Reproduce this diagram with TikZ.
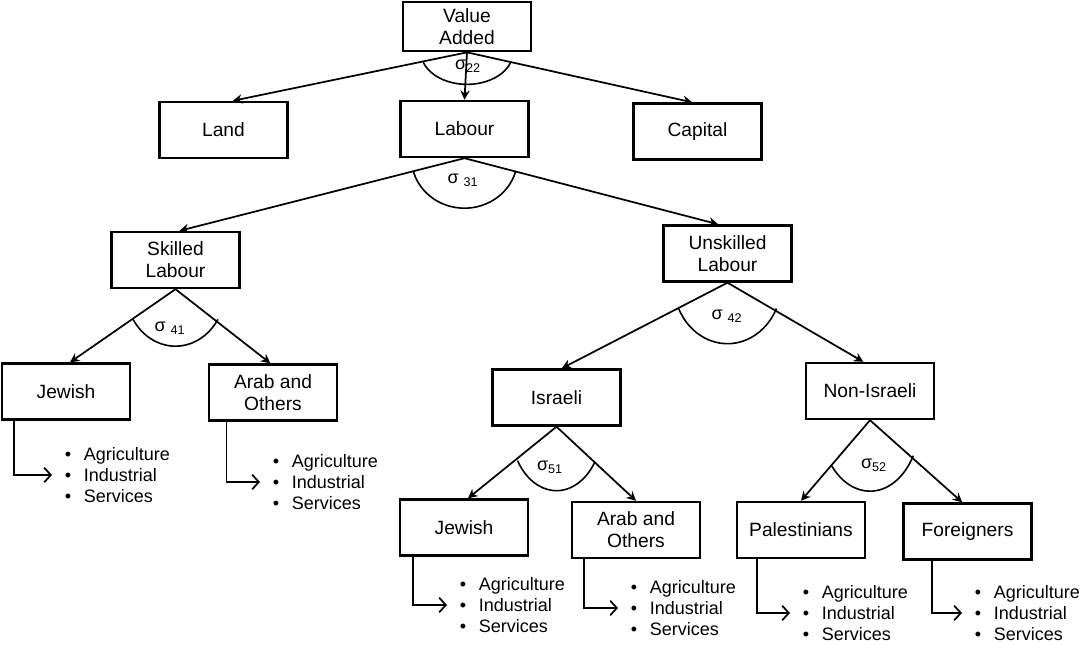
\documentclass[tikz,border=0pt]{standalone}
\usepackage{fontspec}
\setmainfont{Liberation Sans}
\usetikzlibrary{arrows.meta}
\tikzset{
  box/.style={draw,line width=1.8pt,minimum width=96pt,minimum height=42pt,align=center,inner sep=2pt,font=\fontsize{14.4}{16.5}\selectfont},
  blist/.style={anchor=west,align=left,inner xsep=9.5pt,inner ysep=0pt,font=\fontsize{13.5}{15.75}\selectfont},
  tree/.style={line width=1.3pt,-{Stealth[length=7pt,width=7pt]}},
  elbow/.style={line width=1.3pt,-{Straight Barb[length=5pt,width=11pt]}},
  sig/.style={line width=1.2pt},
  siglab/.style={inner sep=0pt,font=\fontsize{13.5}{13.5}\selectfont}
}
\newcommand{\sectors}{\textbullet\hspace{9.5pt}Agriculture\\ \textbullet\hspace{9.5pt}Industrial\\ \textbullet\hspace{9.5pt}Services}
\begin{document}
\begin{tikzpicture}[x=0.75pt,y=-0.75pt]
\useasboundingbox (0,0) rectangle (1083,645);
% top level
\node[box,minimum height=37pt] (va) at (467,26.5) {Value\\Added};
\node[box] (land) at (223.5,130) {Land};
\node[box] (labour) at (464.5,129) {Labour};
\node[box] (capital) at (697.5,131.5) {Capital};
% labour types
\node[box] (skilled) at (175.5,260) {Skilled\\Labour};
\node[box] (unskilled) at (727.5,253.5) {Unskilled\\Labour};
\node[box] (jew1) at (66,391.5) {Jewish};
\node[box] (arab1) at (273,392.5) {Arab and\\Others};
\node[box] (israeli) at (556.5,397.5) {Israeli};
\node[box] (nonisr) at (870,391) {Non-Israeli};
\node[box] (jew2) at (464,527.5) {Jewish};
\node[box] (arab2) at (636,530) {Arab and\\Others};
\node[box] (pal) at (801,530) {Palestinians};
\node[box] (for) at (967.5,531.5) {Foreigners};
% sector lists
\node[blist] (lj1) at (52,475) {\sectors};
\node[blist] (la1) at (260,482) {\sectors};
\node[blist] (lj2) at (447,605) {\sectors};
\node[blist] (la2) at (618,608) {\sectors};
\node[blist] (lp) at (790,613) {\sectors};
\node[blist] (lf) at (962,613) {\sectors};
% nests
\draw[tree] (va.south) -- ([xshift=7pt]land.north);
\draw[tree] (va.south) -- (labour.north);
\draw[tree] (va.south) -- ([xshift=-4pt]capital.north);
\draw[tree] (labour.south) -- ([xshift=3pt]skilled.north);
\draw[tree] (labour.south) -- ([xshift=-7pt]unskilled.north);
\draw[tree] (skilled.south) -- ([xshift=3pt]jew1.north);
\draw[tree] (skilled.south) -- ([xshift=-2pt]arab1.north);
\draw[tree] (unskilled.south) -- ([xshift=4pt]israeli.north);
\draw[tree] (unskilled.south) -- ([xshift=-5pt]nonisr.north);
\draw[tree] (israeli.south) -- ([xshift=3pt]jew2.north);
\draw[tree] (israeli.south) -- (arab2.north);
\draw[tree] (nonisr.south) -- (pal.north);
\draw[tree] (nonisr.south) -- ([xshift=-4pt]for.north);
% elasticities
\draw[sig] (va.south) ++(18:46 and 32) arc[start angle=18,end angle=162,x radius=46,y radius=32];
\draw[sig] (labour.south) ++(15:53 and 50) arc[start angle=15,end angle=165,x radius=53,y radius=50];
\draw[sig] (skilled.south) ++(32:50 and 57) arc[start angle=32,end angle=148,x radius=50,y radius=57];
\draw[sig] (unskilled.south) ++(25:54 and 61) arc[start angle=25,end angle=155,x radius=54,y radius=61];
\draw[sig] (israeli.south) ++(34:46 and 64) arc[start angle=34,end angle=148,x radius=46,y radius=64];
\draw[sig] (nonisr.south) ++(30:50 and 71) arc[start angle=30,end angle=140,x radius=50,y radius=71];
\node[siglab] (s22) at (468,66) {σ\textsubscript{22}};
\node[siglab] (s31) at (463,180) {σ\ \textsubscript{31}};
\node[siglab] (s41) at (170,328) {σ\ \textsubscript{41}};
\node[siglab] (s42) at (727,316) {σ\ \textsubscript{42}};
\node[siglab] (s51) at (550,467) {σ\textsubscript{51}};
\node[siglab] (s52) at (874,465) {σ\textsubscript{52}};
% to sectors
\draw[elbow] ([xshift=10pt]jew1.south west) |- (lj1.west);
\draw[elbow] ([xshift=14pt]arab1.south west) |- (la1.west);
\draw[elbow] ([xshift=10.5pt]jew2.south west) |- (lj2.west);
\draw[elbow] ([xshift=10pt]arab2.south west) |- (la2.west);
\draw[elbow] ([xshift=16pt]pal.south west) |- (lp.west);
\draw[elbow] ([xshift=22.5pt]for.south west) |- (lf.west);
\end{tikzpicture}
\end{document}
